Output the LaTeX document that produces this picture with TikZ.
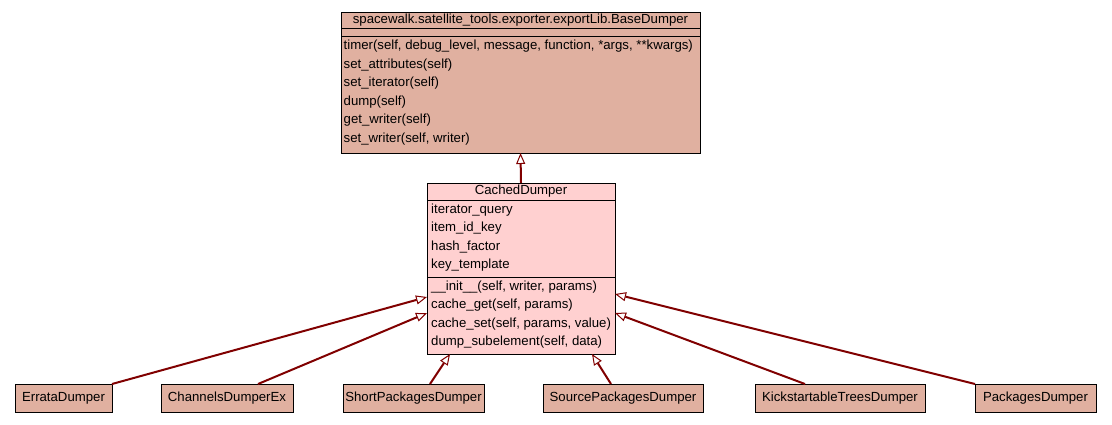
\documentclass[tikz,border=0pt]{standalone}
\usepackage{fontspec}
\setmainfont{Liberation Sans}
\usetikzlibrary{arrows.meta}
\definecolor{salmon}{HTML}{E0B0A0}
\definecolor{pinkfill}{HTML}{FFD0D0}
\definecolor{edgered}{HTML}{800000}
\tikzset{
  cls/.style={draw=black, line width=1pt, rectangle, inner sep=0pt, outer sep=0pt, anchor=north west},
  lbl/.style={anchor=west, inner sep=0pt, font=\fontsize{13.2}{15}\selectfont},
  ttl/.style={anchor=center, inner sep=0pt, font=\fontsize{13.2}{15}\selectfont},
  inherit/.style={draw=edgered, line width=2pt, -{Triangle[length=11pt,width=9pt,fill=white,line width=1pt]}},
}
\begin{document}
\begin{tikzpicture}[x=1pt,y=-1pt]
\useasboundingbox (0,0) rectangle (1112,424);
% BaseDumper
\node[cls, fill=salmon, minimum width=359pt, minimum height=141pt] (base) at (341,12) {};
\draw[line width=1pt] (341,28) -- (700,28);
\draw[line width=1pt] (341,36.5) -- (700,36.5);
\node[ttl] (baset) at (520.5,20) {spacewalk.satellite\_tools.exporter.exportLib.BaseDumper};
\node[lbl] (bm1) at (343.5,46) {timer(self, debug\_level, message, function, *args, **kwargs)};
\node[lbl] (bm2) at (343.5,64.6) {set\_attributes(self)};
\node[lbl] (bm3) at (343.5,83.2) {set\_iterator(self)};
\node[lbl] (bm4) at (343.5,101.8) {dump(self)};
\node[lbl] (bm5) at (343.5,120.4) {get\_writer(self)};
\node[lbl] (bm6) at (343.5,139) {set\_writer(self, writer)};
% CachedDumper
\node[cls, fill=pinkfill, minimum width=188pt, minimum height=171pt] (cached) at (427,183) {};
\draw[line width=1pt] (427,200) -- (615,200);
\draw[line width=1pt] (427,277) -- (615,277);
\node[ttl] (cachedt) at (521,191.5) {CachedDumper};
\node[lbl] (ca1) at (431,210) {iterator\_query};
\node[lbl] (ca2) at (431,228.5) {item\_id\_key};
\node[lbl] (ca3) at (431,247) {hash\_factor};
\node[lbl] (ca4) at (431,265.5) {key\_template};
\node[lbl] (cm1) at (431,287) {\_\_init\_\_(self, writer, params)};
\node[lbl] (cm2) at (431,305.5) {cache\_get(self, params)};
\node[lbl] (cm3) at (431,324) {cache\_set(self, params, value)};
\node[lbl] (cm4) at (431,342.5) {dump\_subelement(self, data)};
% subclasses
\node[cls, fill=salmon, minimum width=97pt, minimum height=28pt] (errata) at (15,384) {};
\node[ttl] at (errata.center) {ErrataDumper};
\node[cls, fill=salmon, minimum width=132pt, minimum height=28pt] (channels) at (161,384) {};
\node[ttl] at (channels.center) {ChannelsDumperEx};
\node[cls, fill=salmon, minimum width=141pt, minimum height=28pt] (short) at (343,384) {};
\node[ttl] at (short.center) {ShortPackagesDumper};
\node[cls, fill=salmon, minimum width=160pt, minimum height=28pt] (source) at (543,384) {};
\node[ttl] at (source.center) {SourcePackagesDumper};
\node[cls, fill=salmon, minimum width=170pt, minimum height=28pt] (kick) at (755,384) {};
\node[ttl] at (kick.center) {KickstartableTreesDumper};
\node[cls, fill=salmon, minimum width=121pt, minimum height=28pt] (packages) at (975,384) {};
\node[ttl] at (packages.center) {PackagesDumper};
% attachment points
\coordinate (tE) at (427,297);
\coordinate (tC) at (427,313);
\coordinate (tS) at (450,354);
\coordinate (tSP) at (592,354);
\coordinate (tK) at (615,313);
\coordinate (tP) at (615,294);
\coordinate (sE) at (112,384);
\coordinate (sC) at (258,384);
\coordinate (sS) at (430,384);
\coordinate (sSP) at (611,384);
\coordinate (sK) at (805,384);
\coordinate (sP) at (975,384);
% edges
\draw[inherit] (cached.north) -- (base.south);
\draw[inherit] (sE) -- (tE);
\draw[inherit] (sC) -- (tC);
\draw[inherit] (sS) -- (tS);
\draw[inherit] (sSP) -- (tSP);
\draw[inherit] (sK) -- (tK);
\draw[inherit] (sP) -- (tP);
\end{tikzpicture}
\end{document}
